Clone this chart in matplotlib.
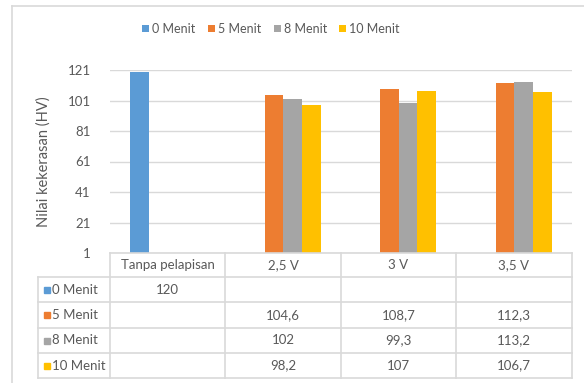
import math
import matplotlib
matplotlib.use("Agg")
import matplotlib.pyplot as plt
from matplotlib.patches import Rectangle

# data
categories = ["Tanpa pelapisan", "2,5 V", "3 V", "3,5 V"]
series_names = ["0 Menit", "5 Menit", "8 Menit", "10 Menit"]
nan = float("nan")
menit_0 = [120, nan, nan, nan]
menit_5 = [nan, 104.6, 108.7, 112.3]
menit_8 = [nan, 102, 99.3, 113.2]
menit_10 = [nan, 98.2, 107, 106.7]
y_ticks = [1, 21, 41, 61, 81, 101, 121]

series = [menit_0, menit_5, menit_8, menit_10]
colors = ["#5B9BD5", "#ED7D31", "#A5A5A5", "#FFC000"]
txt = "#595959"
grid = "#D9D9D9"
plt.rcParams["font.family"] = ["Lato", "DejaVu Sans"]

W, H = 584, 383
fig = plt.figure(figsize=(W / 100, H / 100), dpi=100)

# pixel helpers
def fx(px):
    return px / W

def fy(py):
    return 1 - py / H

x0, x1, ytop, ybot = 110, 572, 70, 253
ax = fig.add_axes([fx(x0), fy(ybot), fx(x1) - fx(x0), fy(ytop) - fy(ybot)])

n = len(categories)
bw = 0.162
for i, (vals, c, name) in enumerate(zip(series, colors, series_names)):
    xs = [k + (i - 1.5) * bw for k in range(n)]
    ax.bar(xs, [0 if math.isnan(v) else v - 1 for v in vals], bw, bottom=1,
           color=c, label=name, zorder=3)

ax.set_xlim(-0.5, n - 0.5)
ax.set_ylim(1, 121)
ax.set_yticks(y_ticks)
ax.set_yticklabels([str(t) for t in y_ticks], color=txt, fontsize=9.5)
ax.set_xticks([])
ax.tick_params(axis="y", length=0, pad=14)
ax.grid(axis="y", color=grid, linewidth=1, zorder=0)
for s in ax.spines.values():
    s.set_visible(False)
ax.set_ylabel("Nilai kekerasan (HV)", color=txt, fontsize=10.5, labelpad=12)

# overlay axes in pixel coordinates for the data table and chart frame
ov = fig.add_axes([0, 0, 1, 1], facecolor="none")
ov.set_xlim(0, W)
ov.set_ylim(H, 0)
ov.axis("off")

# chart frame
ov.plot([12, 12], [6, H], color=grid, lw=1.2)
ov.plot([12, W], [6, 6], color=grid, lw=1.2)

cols = [110, 225, 341, 456, 572]
rows = [253, 277, 302, 328, 353, 378]
lc = "#D9D9D9"
ov.plot([cols[0], cols[-1]], [rows[0], rows[0]], color=lc, lw=1.2)
for r in rows[1:]:
    ov.plot([38, cols[-1]], [r, r], color=lc, lw=1.2)
ov.plot([38, 38], [rows[1], rows[-1]], color=lc, lw=1.2)
for c in cols:
    ov.plot([c, c], [rows[0], rows[-1]], color=lc, lw=1.2)

def fmt(v):
    return "" if math.isnan(v) else f"{v:g}".replace(".", ",")

for k, cat in enumerate(categories):
    cx = (cols[k] + cols[k + 1]) / 2
    ov.text(cx, (rows[0] + rows[1]) / 2, cat, ha="center", va="center",
            color=txt, fontsize=9.5)
for i, (vals, c, name) in enumerate(zip(series, colors, series_names)):
    cy = (rows[i + 1] + rows[i + 2]) / 2
    ov.add_patch(Rectangle((44, cy - 3), 6, 6, color=c))
    ov.text(52, cy, name, ha="left", va="center", color=txt, fontsize=9.5)
    for k, v in enumerate(vals):
        cx = (cols[k] + cols[k + 1]) / 2
        ov.text(cx, cy, fmt(v), ha="center", va="center", color=txt, fontsize=9.5)

fig.legend(loc="center", bbox_to_anchor=(fx(271), fy(29)), ncol=4, frameon=False,
           handlelength=0.55, handleheight=0.55, handletextpad=0.25, columnspacing=1.0,
           fontsize=9, labelcolor=txt)

fig.savefig("out.png", dpi=100)
